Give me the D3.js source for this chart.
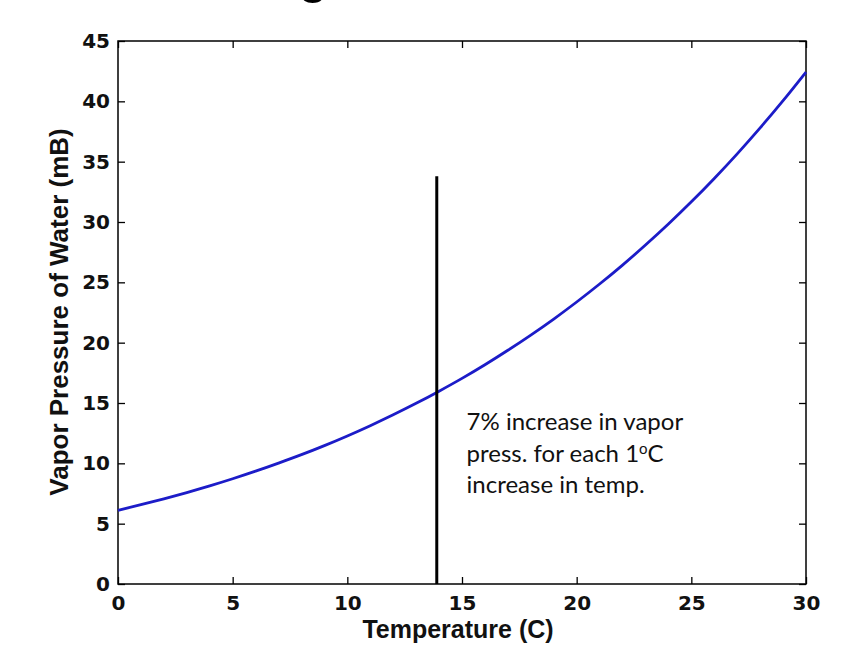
<!DOCTYPE html>
<html>
<head>
<meta charset="utf-8">
<script src="https://d3js.org/d3.v7.min.js"></script>
<style>
  body { margin: 0; background: #fff; }
</style>
</head>
<body>
<svg id="drawing_region"></svg>
<script>
// temperature (C) and vapor pressure of water (mB)
const temps = [0,1,2,3,4,5,6,7,8,9,10,11,12,13,14,15,16,17,18,19,20,21,22,23,24,25,26,27,28,29,30];
const pressures = [6.11,6.57,7.06,7.58,8.13,8.72,9.35,10.02,10.72,11.47,12.27,13.12,14.02,14.97,15.98,
                   17.04,18.17,19.37,20.63,21.96,23.37,24.86,26.43,28.09,29.83,31.67,33.61,35.65,37.80,40.06,42.43];
const xticks = [0,5,10,15,20,25,30];
const yticks = [0,5,10,15,20,25,30,35,40,45];
const marker = {x: 13.9, y: 33.8};
const note = ["7% increase in vapor", "press. for each 1", "increase in temp."];

const config = {
    width: 850,
    height: 672,
    margin: {top:41, right:44, bottom:88, left:118}
};

const svg = d3.select('#drawing_region')
    .attr('width', config.width)
    .attr('height', config.height);

const inner_width = config.width - config.margin.left - config.margin.right;
const inner_height = config.height - config.margin.top - config.margin.bottom;

const chart = svg.append('g')
    .attr('transform', `translate(${config.margin.left}, ${config.margin.top})`);

const xscale = d3.scaleLinear().domain([0, 30]).range([0, inner_width]);
const yscale = d3.scaleLinear().domain([0, 45]).range([inner_height, 0]);

const tickFont = '"DejaVu Sans", Verdana, sans-serif';

// axes, ticks pointing inwards on all four sides
function styleAxis(g) {
    g.select('.domain').remove();
    g.selectAll('.tick line').attr('stroke', '#000').attr('stroke-width', 1.3);
    g.selectAll('.tick text')
        .attr('fill', '#111')
        .attr('font-family', tickFont)
        .attr('font-weight', 'bold')
        .attr('font-size', '20px');
}

chart.append('g')
    .attr('transform', `translate(0, ${inner_height})`)
    .call(d3.axisBottom(xscale).tickValues(xticks).tickSizeInner(-7).tickSizeOuter(0).tickPadding(12))
    .call(styleAxis);

chart.append('g')
    .call(d3.axisTop(xscale).tickValues(xticks).tickSizeInner(-7).tickSizeOuter(0).tickFormat(''))
    .call(styleAxis);

chart.append('g')
    .call(d3.axisLeft(yscale).tickValues(yticks).tickSizeInner(-7).tickSizeOuter(0).tickPadding(8))
    .call(styleAxis);

chart.append('g')
    .attr('transform', `translate(${inner_width}, 0)`)
    .call(d3.axisRight(yscale).tickValues(yticks).tickSizeInner(-7).tickSizeOuter(0).tickFormat(''))
    .call(styleAxis);

chart.append('rect')
    .attr('width', inner_width)
    .attr('height', inner_height)
    .attr('fill', 'none')
    .attr('stroke', '#000')
    .attr('stroke-width', 1.5);

// curve
const line = d3.line()
    .x((d, i) => xscale(temps[i]))
    .y(d => yscale(d))
    .curve(d3.curveMonotoneX);

chart.append('path')
    .attr('d', line(pressures))
    .attr('stroke', '#1c1cc8')
    .attr('stroke-width', 2.8)
    .attr('fill', 'none');

// marker line at ~14 C
chart.append('line')
    .attr('x1', xscale(marker.x)).attr('x2', xscale(marker.x))
    .attr('y1', yscale(0)).attr('y2', yscale(marker.y))
    .attr('stroke', '#000')
    .attr('stroke-width', 3);

// annotation
const ann = chart.append('text')
    .attr('font-family', 'Lato, "Open Sans", sans-serif')
    .attr('font-size', '24px')
    .attr('fill', '#111')
    .attr('transform', `translate(${xscale(15.2)}, ${430 - config.margin.top})`);
ann.append('tspan').attr('x', 0).attr('dy', 0).text(note[0]);
ann.append('tspan').attr('x', 0).attr('dy', 31.5).text(note[1]);
ann.append('tspan').attr('dy', -8).attr('font-size', '15px').text('o');
ann.append('tspan').attr('dy', 8).text('C');
ann.append('tspan').attr('x', 0).attr('dy', 31.5).text(note[2]);

// axis labels
svg.append('text')
    .attr('x', 458)
    .attr('y', 638)
    .attr('text-anchor', 'middle')
    .attr('font-family', 'Arial, "Liberation Sans", sans-serif')
    .attr('font-weight', 'bold')
    .attr('font-size', '25px')
    .attr('fill', '#111')
    .text('Temperature (C)');

svg.append('text')
    .attr('transform', `translate(68, 312) rotate(-90)`)
    .attr('text-anchor', 'middle')
    .attr('font-family', 'Arial, "Liberation Sans", sans-serif')
    .attr('font-weight', 'bold')
    .attr('font-size', '26px')
    .attr('fill', '#111')
    .text('Vapor Pressure of Water (mB)');

// title, cut off by the top edge
svg.append('text')
    .attr('x', 313)
    .attr('y', -9)
    .attr('text-anchor', 'middle')
    .attr('font-family', 'Arial, "Liberation Sans", sans-serif')
    .attr('font-size', '56px')
    .attr('fill', '#000')
    .text('g');
</script>
</body>
</html>
